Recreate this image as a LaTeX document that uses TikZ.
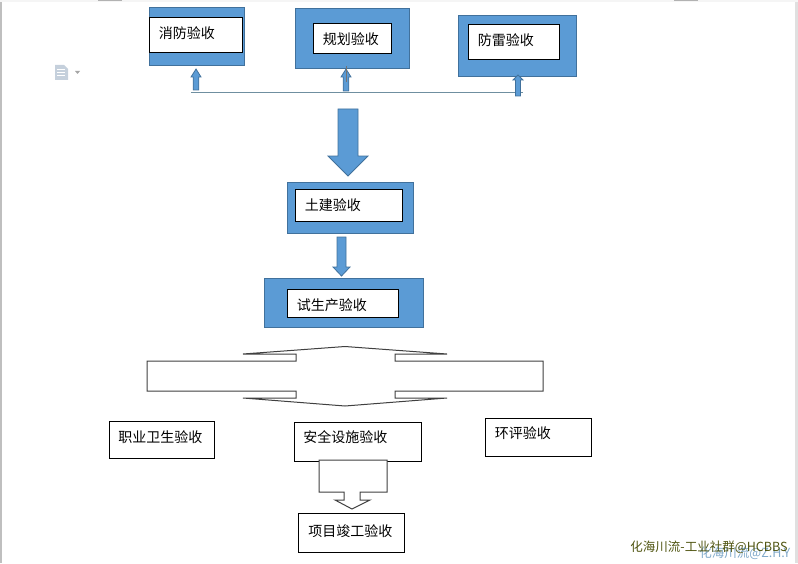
\documentclass[tikz,border=0pt]{standalone}
\usepackage{fontspec}
\setmainfont{Noto Sans CJK SC}
\usetikzlibrary{positioning}
\definecolor{fillblue}{HTML}{5B9BD5}
\definecolor{edgeblue}{HTML}{41719C}
\definecolor{busgray}{HTML}{6F8FA0}
\definecolor{icongray}{HTML}{C5D0DC}
\definecolor{markolive}{HTML}{4F5410}
\definecolor{markblue}{HTML}{7FA8C9}
\tikzset{
  wh/.style 2 args={minimum width=#1*0.75pt-0.4pt,minimum height=#2*0.75pt-0.4pt},
  bluebox/.style={draw=edgeblue,fill=fillblue,line width=0.75pt,inner sep=0pt,outer sep=0pt,anchor=north west},
  whitebox/.style={draw=black,fill=white,line width=0.75pt,inner sep=0pt,outer sep=0pt,anchor=north west},
  boxtext/.style={anchor=west,inner sep=0pt,font=\fontsize{10.5}{12}\selectfont},
  bluearrow/.style={draw=edgeblue,fill=fillblue,line width=0.6pt},
  hollowarrow/.style={draw=black!75,fill=white,line width=0.75pt},
  marktext/.style={anchor=west,inner sep=0pt,font=\fontsize{9.4}{11}\selectfont}
}
\begin{document}
\begin{tikzpicture}[x=0.75pt,y=-0.75pt]
  \useasboundingbox (0,0) rectangle (798,563);
  % 页面边缘
  \fill[black!25] (0,0) rectangle (1.5,563);
  \fill[black!12] (795,0) rectangle (798,563);
  \fill[black!4] (0,0) rectangle (798,2);
  \fill[black!30] (98,0) rectangle (122,1);
  \fill[black!30] (674,0) rectangle (698,1);
  % 文档图标
  \fill[icongray] (55,65) -- (64,65) -- (68,69) -- (68,80) -- (55,80) -- cycle;
  \foreach \y in {69,72,75}
    \draw[white,line width=0.6pt] (57,\y) -- (65,\y);
  \fill[black!35] (75,71) -- (80,71) -- (77.5,74) -- cycle;

  % 蓝色底框
  \node[bluebox,wh={96}{58}] (xiaofangbg) at (149,8) {};
  \node[bluebox,wh={115}{60}] (guihuabg) at (295,9) {};
  \node[bluebox,wh={119}{61}] (fangleibg) at (458,16) {};
  \node[bluebox,wh={127}{52}] (tujianbg) at (287,182) {};
  \node[bluebox,wh={160}{50}] (shishengchanbg) at (264,278) {};

  % 白色内框
  \node[whitebox,wh={94.5}{35}] (xiaofang) at (149,18) {};
  \node[whitebox,wh={79}{30}] (guihua) at (313,24) {};
  \node[whitebox,wh={92}{35}] (fanglei) at (468,25) {};
  \node[whitebox,wh={108}{33}] (tujian) at (295,189) {};
  \node[whitebox,wh={112}{29}] (shishengchan) at (287,289) {};

  % 下方三个框
  \node[whitebox,wh={106}{38}] (zhiye) at (109,421) {};
  \node[whitebox,wh={128.5}{40}] (anquan) at (294,422) {};
  \node[whitebox,wh={107}{39}] (huanping) at (485,418) {};
  \node[whitebox,wh={107.5}{40}] (xiangmu) at (298,513) {};

  % 横线
  \coordinate (busleft) at (191,92.5);
  \coordinate (busright) at (523,92.5);
  \draw[busgray,line width=0.75pt] (busleft) -- (busright);

  % 蓝色箭头:中心/箭尖/箭颈/箭尾/杆半宽/头半宽
  \foreach \cx/\tip/\neck/\tail/\sw/\hw in {
      196/69/77/90/2.8/5,
      346/69/77/91/2.8/5,
      518/75/80/96/2.5/5,
      348/176/156/109/10/20,
      341.5/276/267/237/4.5/8.5}
    \draw[bluearrow] (\cx-\sw,\tail) -- (\cx-\sw,\neck) -- (\cx-\hw,\neck) -- (\cx,\tip)
      -- (\cx+\hw,\neck) -- (\cx+\sw,\neck) -- (\cx+\sw,\tail) -- cycle;
  \draw[black!55,line width=0.6pt] (346,66) -- (346,82);

  % 四向空心箭头
  \draw[hollowarrow] (147,361) -- (296,361) -- (296,354) -- (243,354) -- (345,346.5)
    -- (447,354) -- (395,354) -- (395,361) -- (543,361) -- (543,391) -- (395,391)
    -- (395,398) -- (447,398) -- (345,406) -- (243,398) -- (296,398) -- (296,391)
    -- (147,391) -- cycle;

  % 空心下箭头
  \draw[hollowarrow] (319,460) -- (319,492) -- (344,492) -- (344,500) -- (335,500)
    -- (352,509) -- (370,500) -- (360,500) -- (360,492) -- (387,492) -- (387,460) -- cycle;

  % 文字
  \foreach \nm/\x/\y/\txt in {
      xiaofangtxt/158.5/33/消防验收,
      guihuatxt/322.5/39.5/规划验收,
      fangleitxt/477.5/40/防雷验收,
      tujiantxt/304.5/205/土建验收,
      shishengchantxt/296.5/305/试生产验收,
      zhiyetxt/118/437/职业卫生验收,
      anquantxt/303/437/安全设施验收,
      huanpingtxt/494.5/433/环评验收,
      xiangmutxt/308/531/项目竣工验收}
    \node[boxtext] (\nm) at (\x,\y) {\txt};

  % 水印
  \node[marktext,text=markblue] (markback) at (699,553) {化海川流@Z.H.Y};
  \node[marktext,text=markolive] (markfront) at (630,547) {化海川流-工业社群@HCBBS};
\end{tikzpicture}
\end{document}
